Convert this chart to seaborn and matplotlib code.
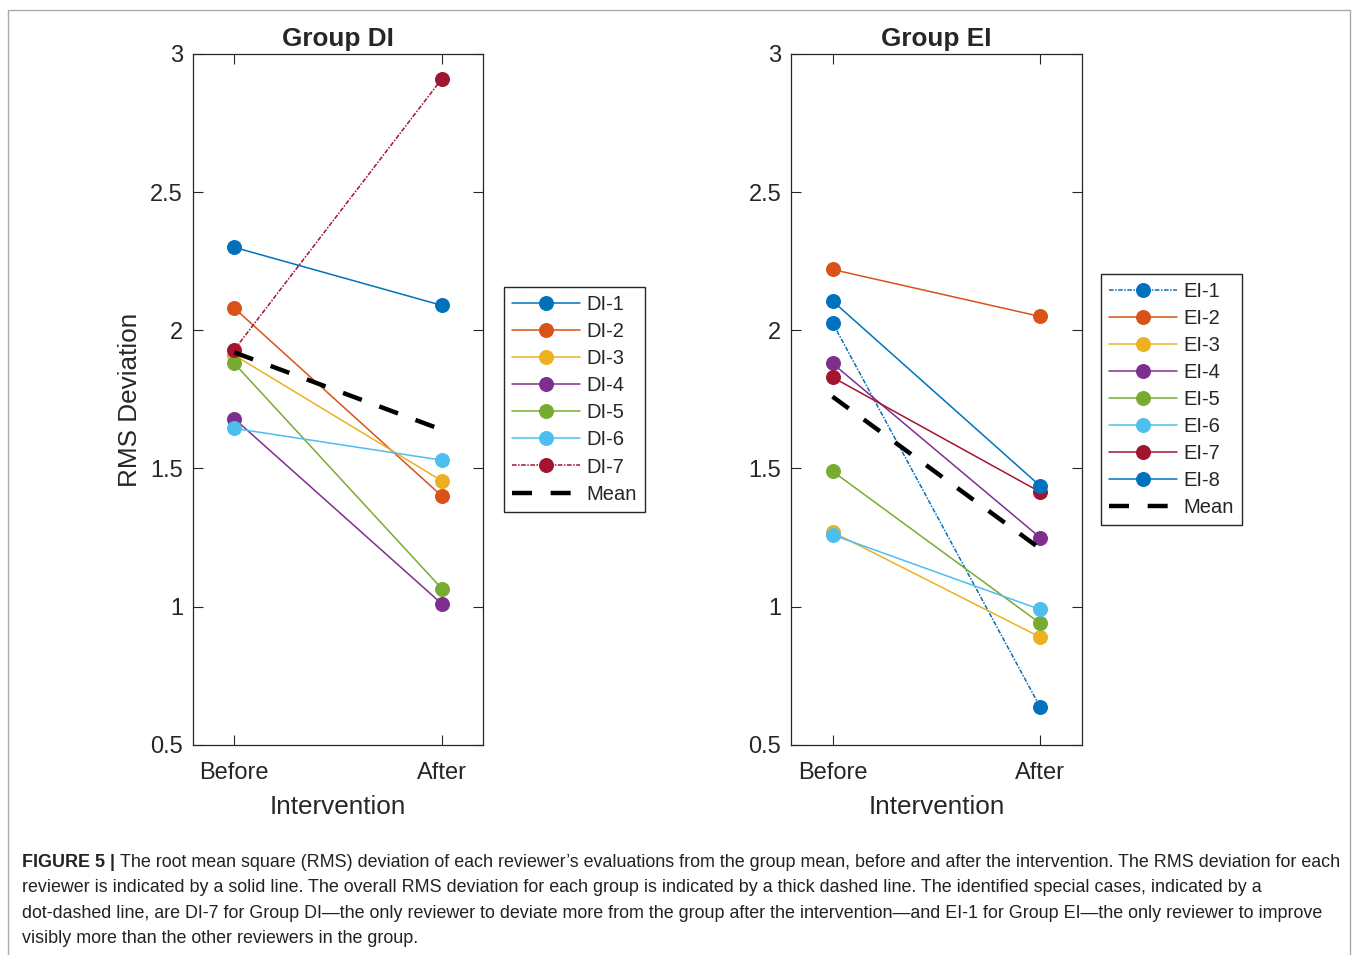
import numpy as np
import pandas as pd
import seaborn as sns
import matplotlib
matplotlib.use('Agg')
import matplotlib.pyplot as plt
from matplotlib.patches import Rectangle

# valori (prima / dopo)
fasi = ['Before', 'After']

di_nomi = ['DI-1', 'DI-2', 'DI-3', 'DI-4', 'DI-5', 'DI-6', 'DI-7']
di_prima = [2.30, 2.08, 1.91, 1.68, 1.88, 1.645, 1.93]
di_dopo = [2.09, 1.40, 1.455, 1.01, 1.065, 1.53, 2.91]
di_media = [1.92, 1.64]

ei_nomi = ['EI-1', 'EI-2', 'EI-3', 'EI-4', 'EI-5', 'EI-6', 'EI-7', 'EI-8']
ei_prima = [2.027, 2.22, 1.27, 1.88, 1.49, 1.26, 1.83, 2.106]
ei_dopo = [0.637, 2.05, 0.89, 1.25, 0.94, 0.99, 1.415, 1.437]
ei_media = [1.76, 1.21]

COLORI = ['#0072BD', '#D95319', '#EDB120', '#7E2F8E', '#77AC30', '#4DBEEE', '#A2142F', '#0072BD']

sns.set_style('ticks')
plt.rcParams['font.family'] = ['Liberation Sans', 'DejaVu Sans']


def disegna_gruppo(ax, nomi, prima, dopo, media, speciale, titolo, legenda_x):
    for i, nome in enumerate(nomi):
        df = pd.DataFrame({'x': [0, 1], 'y': [prima[i], dopo[i]]})
        stile = (0, (3, 1, 1, 1)) if nome == speciale else '-'
        sns.lineplot(data=df, x='x', y='y', ax=ax, color=COLORI[i], marker='o',
                     markersize=10, markeredgecolor=COLORI[i], linewidth=1.1,
                     linestyle=stile, label=nome, errorbar=None)
    df_m = pd.DataFrame({'x': [0, 1], 'y': media})
    sns.lineplot(data=df_m, x='x', y='y', ax=ax, color='black', linewidth=3.2,
                 linestyle=(0, (4.5, 4.2)), label='Mean', errorbar=None)

    ax.set_xlim(-0.2, 1.2)
    ax.set_ylim(0.5, 3)
    ax.set_xticks([0, 1])
    ax.set_xticklabels(fasi)
    ax.set_yticks([0.5, 1, 1.5, 2, 2.5, 3])
    ax.set_yticklabels(['0.5', '1', '1.5', '2', '2.5', '3'])
    ax.tick_params(direction='in', top=True, right=True, length=7, width=0.8,
                   labelsize=17, colors='#262626')
    ax.tick_params(axis='x', pad=12)
    ax.tick_params(axis='y', pad=7)
    for s in ax.spines.values():
        s.set_visible(True)
        s.set_color('#262626')
        s.set_linewidth(0.9)
    ax.set_title(titolo, fontsize=18.8, fontweight='bold', pad=6)
    ax.set_xlabel('Intervention', fontsize=18.8, labelpad=8)
    ax.set_ylabel('')
    ax.legend(loc='center left', bbox_to_anchor=(legenda_x, 0.5), fontsize=14.5,
              frameon=True, fancybox=False, framealpha=1, edgecolor='#262626',
              handlelength=3.4, labelspacing=0.4, borderpad=0.4, handletextpad=0.3,
              borderaxespad=0)


fig = plt.figure(figsize=(13.58, 9.55), dpi=100)
ax1 = fig.add_axes([0.142, 0.22, 0.214, 0.7236])
ax2 = fig.add_axes([0.5825, 0.22, 0.214, 0.7236])

disegna_gruppo(ax1, di_nomi, di_prima, di_dopo, di_media, 'DI-7', 'Group DI', 1.069)
disegna_gruppo(ax2, ei_nomi, ei_prima, ei_dopo, ei_media, 'EI-1', 'Group EI', 1.065)
ax1.set_ylabel('RMS Deviation', fontsize=18.8, labelpad=6)

# cornice esterna
fig.patches.append(Rectangle((0.006, -0.01), 0.988, 1.0, transform=fig.transFigure,
                             fill=False, edgecolor='#aaaaaa', linewidth=1))

# didascalia
righe = [
    "The root mean square (RMS) deviation of each reviewer\u2019s evaluations from the group mean, before and after the intervention. The RMS deviation for each",
    "reviewer is indicated by a solid line. The overall RMS deviation for each group is indicated by a thick dashed line. The identified special cases, indicated by a",
    "dot-dashed line, are DI-7 for Group DI\u2014the only reviewer to deviate more from the group after the intervention\u2014and EI-1 for Group EI\u2014the only reviewer to improve",
    "visibly more than the other reviewers in the group.",
]
y0 = 1 - 862 / 955
passo = 25.5 / 955
x0 = 22 / 1358
fs = 12.85
t = fig.text(x0, y0, 'FIGURE 5 |', fontsize=fs, fontweight='bold', va='center', color='#222222')
fig.canvas.draw()
bb = t.get_window_extent()
fig.text((bb.x1 + 5) / fig.bbox.width, y0, righe[0], fontsize=fs, va='center', color='#222222')
for k, r in enumerate(righe[1:], start=1):
    fig.text(x0, y0 - k * passo, r, fontsize=fs, va='center', color='#222222')

plt.savefig('out.png', dpi=100)
